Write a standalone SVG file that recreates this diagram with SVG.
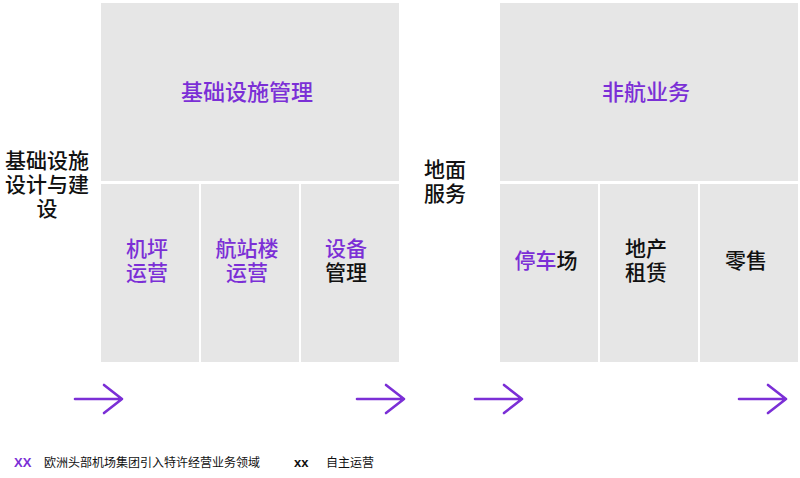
<svg xmlns="http://www.w3.org/2000/svg" width="800" height="478" viewBox="0 0 800 478">
<style>
.box{fill:#e6e6e6;}
text{font-family:"Noto Sans CJK SC","Noto Sans",sans-serif;fill:#111;}
.h{font-size:22px;fill:#7b2fd6;font-weight:500;}
.l{font-size:21px;font-weight:500;}
.p{fill:#7b2fd6;}
.leg{font-size:12px;}
.arr{fill:none;stroke:#7b2fd6;stroke-width:2.6;stroke-linecap:round;stroke-linejoin:round;}
</style>
<rect width="800" height="478" fill="#fff"/>
<g id="left-title">
<text class="l" text-anchor="middle"><tspan x="47" y="168">基础设施</tspan><tspan x="47" y="192">设计与建</tspan><tspan x="47" y="216">设</tspan></text>
</g>
<g id="infra-mgmt"><rect class="box" x="101" y="3" width="298" height="178"/><text class="h" x="247" y="100" text-anchor="middle">基础设施管理</text></g>
<g id="apron"><rect class="box" x="101" y="184" width="98" height="178"/><text class="l p" text-anchor="middle"><tspan x="147" y="256">机坪</tspan><tspan x="147" y="280">运营</tspan></text></g>
<g id="terminal"><rect class="box" x="201" y="184" width="98" height="178"/><text class="l p" text-anchor="middle"><tspan x="247" y="256">航站楼</tspan><tspan x="247" y="280">运营</tspan></text></g>
<g id="equip"><rect class="box" x="301" y="184" width="98" height="178"/><text class="l" text-anchor="middle"><tspan class="p" x="346" y="256">设备</tspan><tspan x="346" y="280">管理</tspan></text></g>
<g id="ground-title">
<text class="l" text-anchor="middle"><tspan x="445" y="177">地面</tspan><tspan x="445" y="201">服务</tspan></text>
</g>
<g id="non-aero"><rect class="box" x="500" y="3" width="298" height="178"/><text class="h" x="646" y="100" text-anchor="middle">非航业务</text></g>
<g id="parking"><rect class="box" x="500" y="184" width="98" height="178"/><text class="l" x="546" y="268" text-anchor="middle"><tspan class="p">停车</tspan>场</text></g>
<g id="realestate"><rect class="box" x="600" y="184" width="98" height="178"/><text class="l" text-anchor="middle"><tspan x="646" y="256">地产</tspan><tspan x="646" y="280">租赁</tspan></text></g>
<g id="retail"><rect class="box" x="700" y="184" width="98" height="178"/><text class="l" x="746" y="268" text-anchor="middle">零售</text></g>
<g id="connectors">
<path class="arr" d="M75 399H122M104 385L122 399L104 413"/>
<path class="arr" d="M357 399H404M386 385L404 399L386 413"/>
<path class="arr" d="M475 399H522M504 385L522 399L504 413"/>
<path class="arr" d="M739 399H786M768 385L786 399L768 413"/>
</g>
<g id="legend">
<text class="leg p" x="14" y="467" font-weight="bold" style="font-family:'Liberation Sans',sans-serif;font-size:13px">XX</text>
<text class="leg" x="44" y="467">欧洲头部机场集团引入特许经营业务领域</text>
<text class="leg" x="294" y="467" font-weight="bold" style="font-family:'Liberation Sans',sans-serif;font-size:13px">xx</text>
<text class="leg" x="326" y="467">自主运营</text>
</g>
</svg>
